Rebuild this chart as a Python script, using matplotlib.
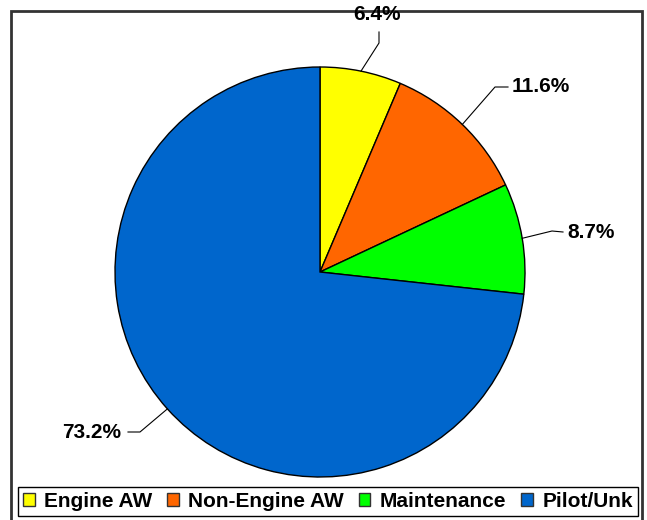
import matplotlib.pyplot as plt
from matplotlib.patches import Patch, Rectangle
import numpy as np

plt.rcParams['font.family'] = ['Liberation Sans', 'DejaVu Sans']

categories = ["Engine AW", "Non-Engine AW", "Maintenance", "Pilot/Unk"]
shares = [6.4, 11.6, 8.7, 73.2]
colors = ["#FFFF00", "#FF6600", "#00FF00", "#0066CC"]

# label text position, elbow point (pixel coords, y up)
label_pos = [(377, 505), (541, 433), (591, 288), (92, 88)]
elbow_pos = [((379, 477), (379, 488)), ((495, 433), (508, 433)),
             ((552, 289), (563, 288)), ((140, 88), (128, 88))]

W, H = 647, 520
fig = plt.figure(figsize=(W / 100, H / 100), dpi=100)
ax = fig.add_axes([0, 0, 1, 1])

cx, cy, r = 320, 248, 205
wedges, _ = ax.pie(shares, colors=colors, startangle=90, counterclock=False,
                   center=(cx, cy), radius=r,
                   wedgeprops=dict(edgecolor="black", linewidth=1))

for w, txt, pos, (e1, e2) in zip(wedges, shares, label_pos, elbow_pos):
    ang = np.deg2rad((w.theta1 + w.theta2) / 2)
    sx, sy = cx + r * np.cos(ang), cy + r * np.sin(ang)
    ax.plot([sx, e1[0], e2[0]], [sy, e1[1], e2[1]], color="black", lw=0.8)
    ax.text(pos[0], pos[1], f"{txt:.1f}%", ha="center", va="center",
            fontsize=15, fontweight="bold")

ax.set_xlim(0, W)
ax.set_ylim(0, H)
ax.set_aspect("equal")
ax.axis("off")

# outer frame
ax.add_patch(Rectangle((11, -3), 631, 512, fill=False, edgecolor="#333333",
                       lw=2, clip_on=False))

handles = [Patch(facecolor=c, edgecolor="#333333", lw=1) for c in colors]
leg = fig.legend(handles, categories, loc="center", ncol=4,
                 bbox_to_anchor=(328 / W, 18.5 / H),
                 prop=dict(size=15, weight="bold"),
                 handlelength=0.55, handleheight=0.55, handletextpad=0.45,
                 columnspacing=0.72, borderpad=0.25, fancybox=False,
                 framealpha=1, edgecolor="black")
leg.get_frame().set_linewidth(1)

fig.savefig("out.png", dpi=100)
